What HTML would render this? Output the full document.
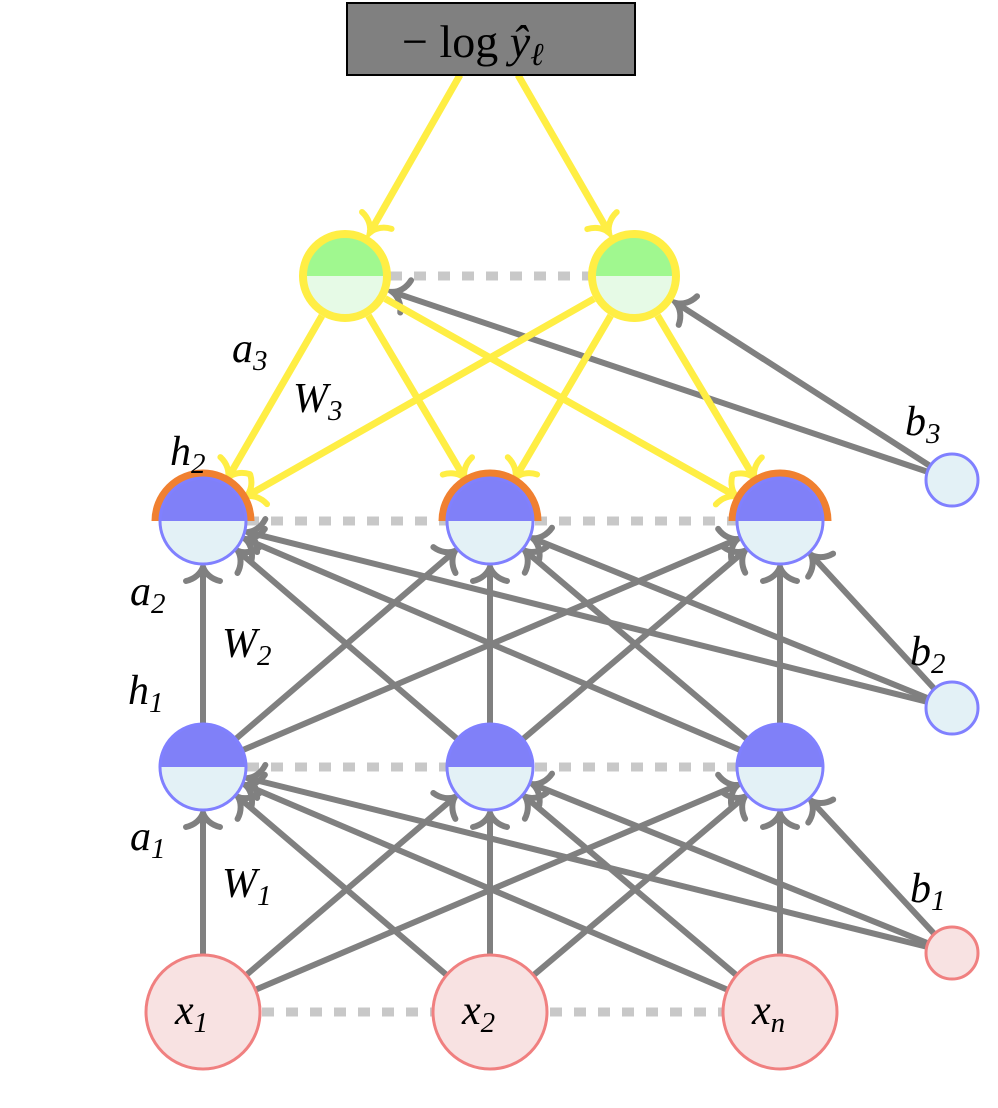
<!DOCTYPE html>
<html><head><meta charset="utf-8"><style>
html,body{margin:0;padding:0;background:#fff;}
svg{display:block;}
text{font-family:"Liberation Serif","DejaVu Serif",serif;font-style:italic;fill:#000;}
</style></head><body>
<svg id="s" width="998" height="1108" viewBox="0 0 998 1108" xmlns="http://www.w3.org/2000/svg">
<defs>
<marker id="ag" markerUnits="userSpaceOnUse" markerWidth="40" markerHeight="40" refX="0" refY="0" viewBox="-20 -20 40 40" orient="auto" overflow="visible">
<path d="M -14 -17 C -12 -8 -6 -2 0 0 C -6 2 -12 8 -14 17" fill="none" stroke="#808080" stroke-width="6" stroke-linecap="round"/>
</marker>
<marker id="ay" markerUnits="userSpaceOnUse" markerWidth="40" markerHeight="40" refX="0" refY="0" viewBox="-20 -20 40 40" orient="auto" overflow="visible">
<path d="M -14 -17 C -12 -8 -6 -2 0 0 C -6 2 -12 8 -14 17" fill="none" stroke="#ffee44" stroke-width="6" stroke-linecap="round"/>
</marker>
</defs>
<g id="dots" stroke="#c8c8c8" stroke-width="9" stroke-dasharray="12 12">
<line x1="390" y1="276" x2="590" y2="276"/>
<line x1="247" y1="521" x2="736" y2="521"/>
<line x1="247" y1="767" x2="736" y2="767"/>
<line x1="262" y1="1012" x2="722" y2="1012"/>
</g>
<g id="edges"></g>
<g id="nodes"></g>
<rect x="347" y="3" width="288" height="72" fill="#808080" stroke="#000" stroke-width="2"/>
<text x="402" y="57" font-size="46" style="font-style:normal">− log <tspan font-style="italic">ŷ</tspan><tspan font-size="32" dy="8" font-style="italic">ℓ</tspan></text>
<g font-size="42">
<text x="232" y="362">a<tspan font-size="29" dy="8">3</tspan></text>
<text x="293" y="412">W<tspan font-size="29" dy="8">3</tspan></text>
<text x="170" y="465">h<tspan font-size="29" dy="8">2</tspan></text>
<text x="130" y="605">a<tspan font-size="29" dy="8">2</tspan></text>
<text x="222" y="657">W<tspan font-size="29" dy="8">2</tspan></text>
<text x="128" y="704">h<tspan font-size="29" dy="8">1</tspan></text>
<text x="130" y="850">a<tspan font-size="29" dy="8">1</tspan></text>
<text x="222" y="897">W<tspan font-size="29" dy="8">1</tspan></text>
<text x="905" y="435">b<tspan font-size="29" dy="8">3</tspan></text>
<text x="910" y="665">b<tspan font-size="29" dy="8">2</tspan></text>
<text x="910" y="902">b<tspan font-size="29" dy="8">1</tspan></text>
</g>
</svg>
<script>
const NS="http://www.w3.org/2000/svg";
const E=document.getElementById('edges'),N=document.getElementById('nodes');
function el(p,t,a){const e=document.createElementNS(NS,t);for(const k in a)e.setAttribute(k,a[k]);p.appendChild(e);return e;}
const X=[203,490,780];
const out=[[345,276],[634,276]],h2=X.map(x=>[x,521]),h1=X.map(x=>[x,767]),inp=X.map(x=>[x,1012]);
const b3=[952,480],b2=[952,708],b1=[952,953];
function edge(a,ra,b,rb,col){
 const dx=b[0]-a[0],dy=b[1]-a[1],d=Math.hypot(dx,dy),ux=dx/d,uy=dy/d;
 el(E,'line',{x1:a[0]+ux*ra,y1:a[1]+uy*ra,x2:b[0]-ux*rb,y2:b[1]-uy*rb,stroke:col=='y'?'#ffee44':'#808080','stroke-width':col=='y'?7:6,'marker-end':col=='y'?'url(#ay)':'url(#ag)'});
}
inp.forEach(a=>h1.forEach(b=>edge(a,57,b,46,'g')));
h1.forEach(b=>edge(b1,27,b,46,'g'));
h1.forEach(a=>h2.forEach(b=>edge(a,44,b,46,'g')));
h2.forEach(b=>edge(b2,27,b,46,'g'));
out.forEach(b=>edge(b3,27,b,50,'g'));
out.forEach(a=>h2.forEach(b=>edge(a,46,b,50,'y')));
edge([460,75],0,out[0],50,'y');edge([518,75],0,out[1],50,'y');
function half(cx,cy,r,top,bot,stroke,sw){
 el(N,'path',{d:`M${cx-r} ${cy} A${r} ${r} 0 0 1 ${cx+r} ${cy} Z`,fill:top});
 el(N,'path',{d:`M${cx-r} ${cy} A${r} ${r} 0 0 0 ${cx+r} ${cy} Z`,fill:bot});
 el(N,'circle',{cx,cy,r,fill:'none',stroke,'stroke-width':sw});
}
out.forEach(p=>{half(p[0],p[1],42,'#a0f88f','#e6fae6','#ffee44',8);});
h2.forEach(p=>{el(N,'path',{d:`M${p[0]-47} ${p[1]} A47 47 0 0 1 ${p[0]+47} ${p[1]}`,fill:'none',stroke:'#f08030','stroke-width':9});
 half(p[0],p[1],43,'#8080f8','#e3f1f6','#8080ff',3);});
h1.forEach(p=>half(p[0],p[1],43,'#8080f8','#e3f1f6','#8080ff',3));
inp.forEach((p,i)=>{el(N,'circle',{cx:p[0],cy:p[1],r:57,fill:'#f8e2e2',stroke:'#f08080','stroke-width':3});});
el(N,'circle',{cx:b3[0],cy:b3[1],r:26,fill:'#e3f1f6',stroke:'#8080ff','stroke-width':3});
el(N,'circle',{cx:b2[0],cy:b2[1],r:26,fill:'#e3f1f6',stroke:'#8080ff','stroke-width':3});
el(N,'circle',{cx:b1[0],cy:b1[1],r:26,fill:'#f8e2e2',stroke:'#f08080','stroke-width':3});
[['x','1'],['x','2'],['x','n']].forEach((t,i)=>{const tx=el(N,'text',{x:inp[i][0]-28,y:inp[i][1]+12,'font-size':42});tx.textContent=t[0];const s=el(tx,'tspan',{'font-size':29,dy:8});s.textContent=t[1];});
</script>
</body></html>
